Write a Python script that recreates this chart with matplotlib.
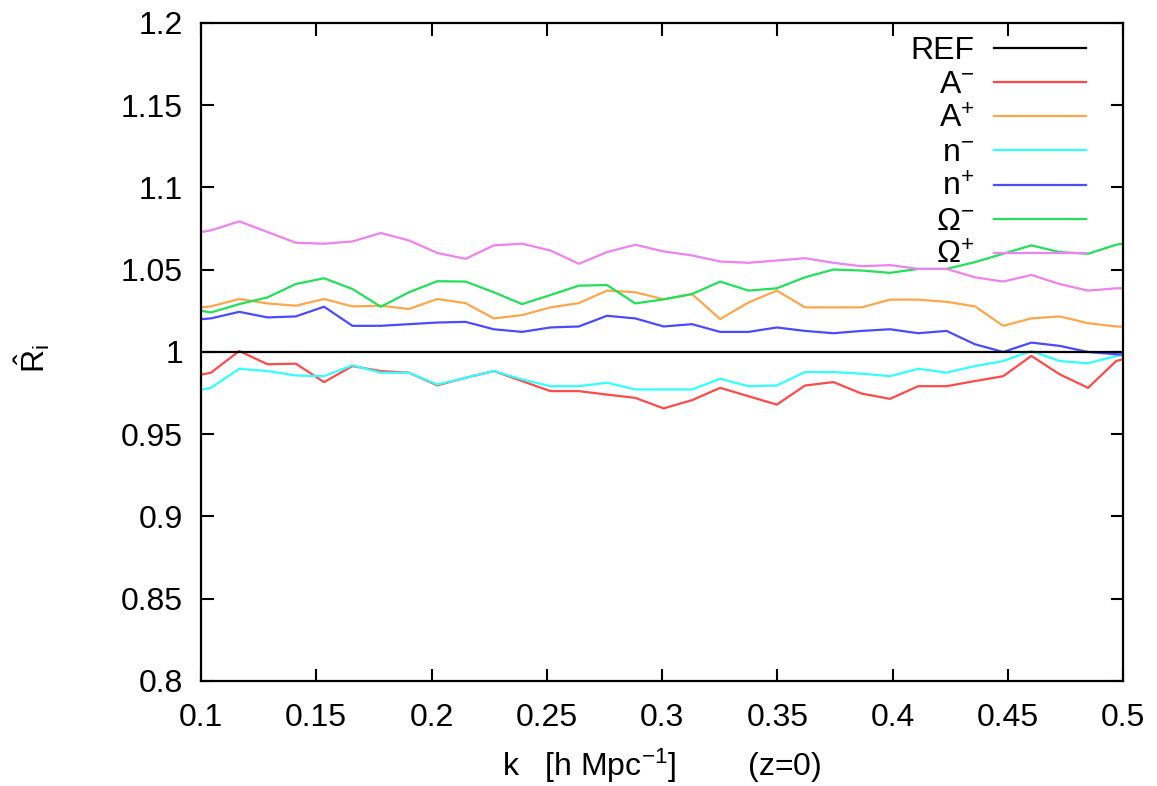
import numpy as np
import matplotlib
matplotlib.use('Agg')
from matplotlib import pyplot as plt

plt.rcParams['font.family'] = ['Liberation Sans', 'DejaVu Sans']
plt.rcParams['mathtext.fontset'] = 'custom'
plt.rcParams['mathtext.rm'] = 'Liberation Sans'
plt.rcParams['mathtext.it'] = 'Liberation Sans'
plt.rcParams['mathtext.default'] = 'regular'

# wavenumber bins (h/Mpc)
k = [0.0921, 0.1043, 0.1166, 0.1289, 0.1411, 0.1534, 0.1657, 0.1780,
     0.1902, 0.2025, 0.2148, 0.2270, 0.2393, 0.2516, 0.2639, 0.2761,
     0.2884, 0.3007, 0.3130, 0.3252, 0.3375, 0.3498, 0.3620, 0.3743,
     0.3866, 0.3989, 0.4111, 0.4234, 0.4357, 0.4480, 0.4602, 0.4725,
     0.4848, 0.4970, 0.5093]

# ratio to the reference run
A_minus = [0.984, 0.9874, 1.0006, 0.9925, 0.9929, 0.9817, 0.9914, 0.9884,
           0.9874, 0.9797, 0.9843, 0.9884, 0.9823, 0.9762, 0.9762, 0.9741,
           0.9721, 0.9657, 0.9707, 0.9782, 0.9731, 0.9680, 0.9796, 0.9817,
           0.9747, 0.9715, 0.9792, 0.9792, 0.9823, 0.9853, 0.9976, 0.9864,
           0.9782, 0.9945, 0.9990]
A_plus = [1.026, 1.0277, 1.0322, 1.0295, 1.0281, 1.0322, 1.0277, 1.0281,
          1.0261, 1.0322, 1.0297, 1.0204, 1.0224, 1.0271, 1.0297, 1.0373,
          1.0363, 1.0320, 1.0352, 1.0200, 1.0301, 1.0373, 1.0271, 1.0271,
          1.0271, 1.0318, 1.0318, 1.0305, 1.0277, 1.0159, 1.0204, 1.0216,
          1.0175, 1.0155, 1.0150]
n_minus = [0.975, 0.9782, 0.9898, 0.9884, 0.9857, 0.9853, 0.9919, 0.9874,
           0.9874, 0.9802, 0.9843, 0.9884, 0.9833, 0.9792, 0.9792, 0.9813,
           0.9772, 0.9772, 0.9772, 0.9837, 0.9792, 0.9796, 0.9878, 0.9878,
           0.9868, 0.9853, 0.9898, 0.9874, 0.9914, 0.9945, 1.0006, 0.9945,
           0.9931, 0.9976, 0.9990]
n_plus = [1.019, 1.0204, 1.0244, 1.0210, 1.0216, 1.0275, 1.0159, 1.0159,
          1.0169, 1.0179, 1.0183, 1.0138, 1.0122, 1.0149, 1.0155, 1.0220,
          1.0204, 1.0155, 1.0169, 1.0122, 1.0122, 1.0149, 1.0128, 1.0114,
          1.0128, 1.0138, 1.0114, 1.0128, 1.0047, 1.0000, 1.0057, 1.0037,
          1.0000, 0.9986, 0.9980]
Om_minus = [1.027, 1.0240, 1.0291, 1.0332, 1.0413, 1.0448, 1.0383, 1.0275,
            1.0363, 1.0430, 1.0428, 1.0363, 1.0291, 1.0346, 1.0403, 1.0407,
            1.0295, 1.0320, 1.0352, 1.0428, 1.0373, 1.0387, 1.0454, 1.0501,
            1.0495, 1.0481, 1.0505, 1.0505, 1.0546, 1.0597, 1.0648, 1.0607,
            1.0597, 1.0652, 1.0680]
Om_plus = [1.071, 1.0739, 1.0794, 1.0729, 1.0664, 1.0658, 1.0672, 1.0723,
           1.0678, 1.0602, 1.0566, 1.0648, 1.0658, 1.0617, 1.0536, 1.0607,
           1.0652, 1.0611, 1.0587, 1.0550, 1.0542, 1.0556, 1.0570, 1.0542,
           1.0521, 1.0528, 1.0505, 1.0505, 1.0454, 1.0428, 1.0468, 1.0413,
           1.0373, 1.0387, 1.0390]

series = [
    ('REF', None, 'black'),
    (r'A$^{-}$', A_minus, '#ff4a4a'),
    (r'A$^{+}$', A_plus, '#ffa64d'),
    (r'n$^{-}$', n_minus, '#33ffff'),
    (r'n$^{+}$', n_plus, '#4a4aff'),
    (r'$\Omega^{-}$', Om_minus, '#22e05a'),
    (r'$\Omega^{+}$', Om_plus, '#ee82ee'),
]

fig = plt.figure(figsize=(11.57, 7.86), dpi=100)
ax = fig.add_axes([0.1737, 0.1336, 0.7970, 0.8372])

for label, vals, col in series:
    if vals is None:
        ax.axhline(1.0, color=col, lw=1.6, label=label, zorder=3)
    else:
        ax.plot(k, vals, color=col, lw=1.6, label=label)

ax.set_xlim(0.1, 0.5)
ax.set_ylim(0.8, 1.2)
ax.set_xticks(np.arange(0.1, 0.501, 0.05))
ax.set_yticks(np.arange(0.8, 1.201, 0.05))
ax.xaxis.set_major_formatter(matplotlib.ticker.FormatStrFormatter('%g'))
ax.yaxis.set_major_formatter(matplotlib.ticker.FormatStrFormatter('%g'))
ax.tick_params(direction='in', length=9, width=1.5, top=True, right=True,
               labelsize=23, colors='black')
ax.tick_params(axis='x', pad=16)
ax.tick_params(axis='y', pad=13)
for sp in ax.spines.values():
    sp.set_linewidth(1.6)

ax.set_xlabel(r'k   [h Mpc$^{-1}$]        (z=0)', fontsize=23)
ax.set_ylabel(r'$\hat{R}_{i}$', fontsize=23)
ax.xaxis.set_label_coords(0.5, -0.1)
ax.yaxis.set_label_coords(-0.162, 0.49)

leg = ax.legend(loc='upper right', bbox_to_anchor=(0.96, 0.98),
                frameon=False, markerfirst=False, fontsize=23,
                handlelength=2.9, handletextpad=0.6, labelspacing=0.13,
                borderpad=0.0, borderaxespad=0.0)
for t in leg.get_texts():
    t.set_ha('right')

fig.savefig('out.png', dpi=100)
